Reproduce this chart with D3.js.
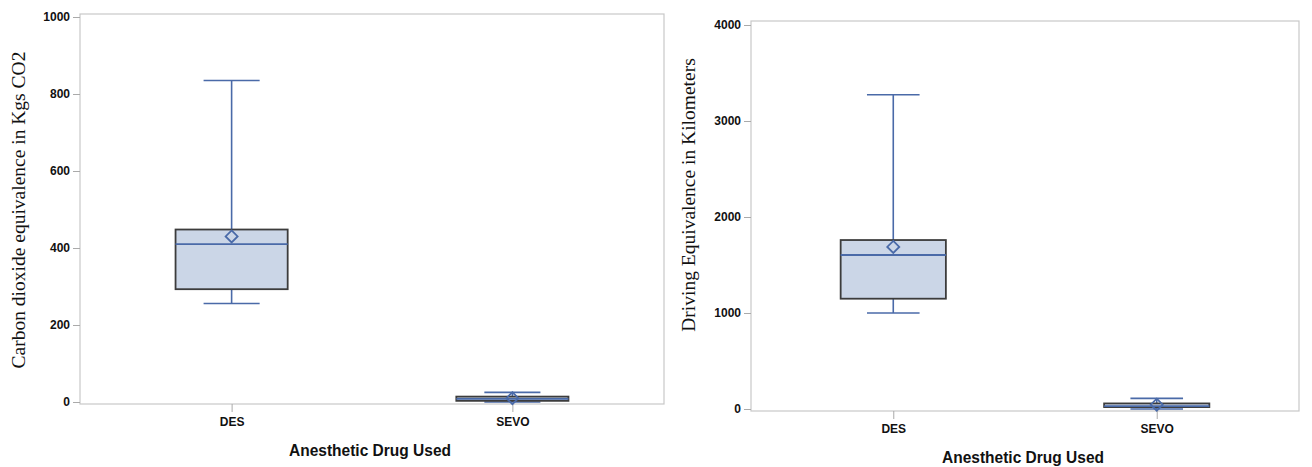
<!DOCTYPE html>
<html><head><meta charset="utf-8">
<script src="https://cdn.jsdelivr.net/npm/d3@7"></script>
<style>
body{margin:0;background:#fff;}
svg{display:block;}
</style></head>
<body><svg id="c" width="1312" height="467"></svg>
<script>
const categories = ["DES", "SEVO"];
// Left panel: CO2 equivalence (kg)
const co2Min    = [256, 0];
const co2Q1     = [293, 3];
const co2Median = [410, 8];
const co2Q3     = [448, 14];
const co2Max    = [835, 25];
const co2Mean   = [430, 10];
const co2Ticks  = [0, 200, 400, 600, 800, 1000];
// Right panel: driving equivalence (km)
const kmMin    = [1000, 0];
const kmQ1     = [1149, 20];
const kmMedian = [1604, 30];
const kmQ3     = [1760, 58];
const kmMax    = [3274, 111];
const kmMean   = [1688, 45];
const kmTicks  = [0, 1000, 2000, 3000, 4000];

const svg = d3.select("#c");
const tickFont = "'Liberation Sans Narrow','Liberation Sans',Arial,sans-serif";
const serif = "'Liberation Serif','Times New Roman',serif";
const whiskerCol = "#4a6aa8", boxFill = "#cbd6e7", boxStroke = "#3c3c3c", frameCol = "#c8c8c8";

function panel(cfg){
  const g = svg.append("g");
  const {fx0, fx1, fy0, fy1, y0px, yTopPx, domainMax, ticks} = cfg;
  const y = d3.scaleLinear().domain([0, domainMax]).range([y0px, yTopPx]);
  const x = d3.scalePoint().domain(categories).range([fx0, fx1]).padding(0.54);
  const bw = (fx1 - fx0) * 0.192;

  g.append("rect").attr("x", fx0).attr("y", fy0).attr("width", fx1 - fx0).attr("height", fy1 - fy0)
    .attr("fill", "none").attr("stroke", frameCol).attr("stroke-width", 1.2);

  const ya = g.append("g").attr("transform", `translate(${fx0},0)`)
    .call(d3.axisLeft(y).tickValues(ticks).tickSize(7).tickPadding(3).tickFormat(d3.format("d")));
  ya.select(".domain").remove();
  ya.selectAll("line").attr("stroke", "#aaa");
  ya.selectAll("text").attr("font-family", tickFont).attr("font-weight", "bold").attr("font-size", 12).attr("fill", "#111");

  const xa = g.append("g").attr("transform", `translate(0,${fy1})`)
    .call(d3.axisBottom(x).tickSize(8).tickPadding(5));
  xa.select(".domain").remove();
  xa.selectAll("line").attr("stroke", "#aaa");
  xa.selectAll("text").attr("font-family", tickFont).attr("font-weight", "bold").attr("font-size", 12).attr("fill", "#111");

  categories.forEach((c, i) => {
    const cx = x(c);
    g.append("line").attr("x1", cx).attr("x2", cx).attr("y1", y(cfg.max[i])).attr("y2", y(cfg.q3[i]))
      .attr("stroke", whiskerCol).attr("stroke-width", 1.6);
    g.append("line").attr("x1", cx).attr("x2", cx).attr("y1", y(cfg.q1[i])).attr("y2", y(cfg.min[i]))
      .attr("stroke", whiskerCol).attr("stroke-width", 1.6);
    [cfg.max[i], cfg.min[i]].forEach(v => {
      g.append("line").attr("x1", cx - bw / 4).attr("x2", cx + bw / 4).attr("y1", y(v)).attr("y2", y(v))
        .attr("stroke", whiskerCol).attr("stroke-width", 1.6);
    });
    g.append("rect").attr("x", cx - bw / 2).attr("width", bw)
      .attr("y", y(cfg.q3[i])).attr("height", Math.max(1, y(cfg.q1[i]) - y(cfg.q3[i])))
      .attr("fill", boxFill).attr("stroke", boxStroke).attr("stroke-width", 1.8);
    g.append("line").attr("x1", cx - bw / 2).attr("x2", cx + bw / 2).attr("y1", y(cfg.median[i])).attr("y2", y(cfg.median[i]))
      .attr("stroke", whiskerCol).attr("stroke-width", 1.8);
    const my = y(cfg.mean[i]), r = 6;
    g.append("path").attr("d", `M${cx},${my - r}L${cx + r},${my}L${cx},${my + r}L${cx - r},${my}Z`)
      .attr("fill", "none").attr("stroke", whiskerCol).attr("stroke-width", 1.8);
  });

  g.append("text").attr("x", (fx0 + fx1) / 2 - 2).attr("y", cfg.xTitleY).attr("text-anchor", "middle")
    .attr("font-family", tickFont).attr("font-size", 17).attr("fill", "#111").attr("font-weight", "bold")
    .attr("textLength", 162).attr("lengthAdjust", "spacingAndGlyphs")
    .text("Anesthetic Drug Used");
  g.append("text").attr("transform", `translate(${cfg.yTitleX},${cfg.yTitleY}) rotate(-90)`)
    .attr("text-anchor", "middle").attr("font-family", serif).attr("font-size", 19.5).attr("fill", "#111")
    .text(cfg.yTitle);
}

panel({fx0: 80, fx1: 664, fy0: 14, fy1: 404, y0px: 402, yTopPx: 17, domainMax: 1000, ticks: co2Ticks,
  min: co2Min, q1: co2Q1, median: co2Median, q3: co2Q3, max: co2Max, mean: co2Mean,
  xTitleY: 456, yTitleX: 25, yTitleY: 210, yTitle: "Carbon dioxide equivalence in Kgs CO2"});
panel({fx0: 751, fx1: 1299, fy0: 21, fy1: 411, y0px: 409, yTopPx: 25, domainMax: 4000, ticks: kmTicks,
  min: kmMin, q1: kmQ1, median: kmMedian, q3: kmQ3, max: kmMax, mean: kmMean,
  xTitleY: 463, yTitleX: 695, yTitleY: 195, yTitle: "Driving Equivalence in Kilometers"});
</script>
</body></html>
